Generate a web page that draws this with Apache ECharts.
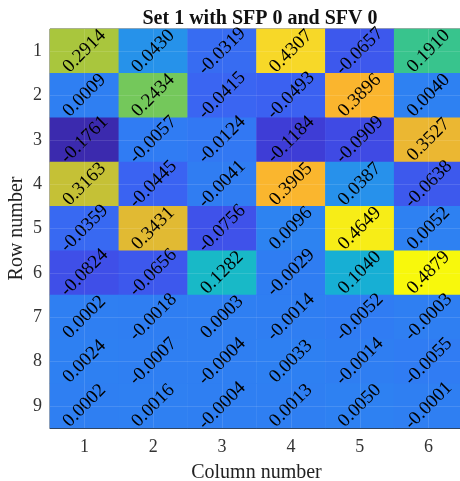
<!DOCTYPE html>
<html>
<head>
<meta charset="utf-8">
<script src="https://cdn.jsdelivr.net/npm/echarts@6/dist/echarts.min.js"></script>
<style>html,body{margin:0;padding:0;background:#fff;}#c{width:460px;height:481px;}</style>
</head>
<body>
<div id="c"></div>
<script>
const columns = ['1','2','3','4','5','6'];
const rows = ['1','2','3','4','5','6','7','8','9'];
const row1 = [0.2914, 0.0430, -0.0319, 0.4307, -0.0657, 0.1910];
const row2 = [0.0009, 0.2434, -0.0415, -0.0493, 0.3896, 0.0040];
const row3 = [-0.1761, -0.0057, -0.0124, -0.1184, -0.0909, 0.3527];
const row4 = [0.3163, -0.0445, -0.0041, 0.3905, 0.0387, -0.0638];
const row5 = [-0.0359, 0.3431, -0.0756, 0.0096, 0.4649, 0.0052];
const row6 = [-0.0824, -0.0656, 0.1282, -0.0029, 0.1040, 0.4879];
const row7 = [0.0002, -0.0018, 0.0003, -0.0014, -0.0052, -0.0003];
const row8 = [0.0024, -0.0007, -0.0004, 0.0033, -0.0014, -0.0055];
const row9 = [0.0002, 0.0016, -0.0004, 0.0013, 0.0050, -0.0001];
const matrix = [row1, row2, row3, row4, row5, row6, row7, row8, row9];

const titleText = 'Set 1 with SFP 0 and SFV 0';
const xName = 'Column number';
const yName = 'Row number';

const palette = ['#3B2AAE','#3C33C6','#3F40DC','#3F52EA','#3A64F2','#317AF3','#2A8AF0','#2498E6','#17A8DA','#16B8CC','#22C0B0','#36C48F','#5CC86C','#82C852','#A6C63E','#CBC034','#EEB632','#FAB42E','#F7D22C','#F6E81C','#F8F80C'];

const data = [];
matrix.forEach((r, ri) => r.forEach((v, ci) => data.push([ci, ri, v])));
let vmin = Infinity, vmax = -Infinity;
data.forEach(d => { vmin = Math.min(vmin, d[2]); vmax = Math.max(vmax, d[2]); });

const font = 'Liberation Serif';
const chart = echarts.init(document.getElementById('c'), null, {renderer: 'canvas'});
chart.setOption({
  animation: false,
  backgroundColor: '#fff',
  title: {
    text: titleText, left: 255, top: 4, textAlign: 'center',
    textStyle: {fontFamily: font, fontWeight: 'bold', fontSize: 20, color: '#111'}
  },
  grid: {left: 50, right: -3, top: 29, bottom: 53, show: true, borderColor: '#555', borderWidth: 1,
         containLabel: false, outerBoundsMode: 'none'},
  xAxis: [{
    type: 'category', data: columns, position: 'bottom',
    name: xName, nameLocation: 'middle', nameGap: 35, nameMoveOverlap: false,
    nameTextStyle: {fontFamily: font, fontSize: 20, color: '#222'},
    axisLine: {show: true, lineStyle: {color: '#333'}},
    axisTick: {show: true, inside: true, alignWithLabel: true, length: 5, lineStyle: {color: '#444'}},
    axisLabel: {fontFamily: font, fontSize: 18, color: '#333', margin: 10},
    splitLine: {show: false}
  }, {
    type: 'category', data: columns, position: 'bottom',
    axisLine: {show: false}, axisLabel: {show: false},
    axisTick: {show: true, inside: true, alignWithLabel: true, length: 399, lineStyle: {color: 'rgba(255,255,255,0.12)'}},
    z: 5
  }],
  yAxis: [{
    type: 'category', data: rows, inverse: true,
    name: yName, nameLocation: 'middle', nameGap: 23, nameRotate: 90, nameMoveOverlap: false,
    nameTextStyle: {fontFamily: font, fontSize: 20, color: '#222'},
    axisLine: {show: false},
    axisTick: {show: true, inside: true, alignWithLabel: true, length: 5, lineStyle: {color: '#444'}},
    axisLabel: {fontFamily: font, fontSize: 18, color: '#333', margin: 8},
    splitLine: {show: false}
  }, {
    type: 'category', data: rows, inverse: true, position: 'left',
    axisLine: {show: false}, axisLabel: {show: false},
    axisTick: {show: true, inside: true, alignWithLabel: true, length: 413, lineStyle: {color: 'rgba(255,255,255,0.12)'}},
    z: 5
  }],
  visualMap: {
    show: false, type: 'continuous', min: vmin, max: vmax, dimension: 2, seriesIndex: 0,
    inRange: {color: palette}
  },
  series: [{
    type: 'heatmap', xAxisIndex: 0, yAxisIndex: 0, data: data,
    itemStyle: {borderWidth: 0},
    label: {
      show: true, rotate: 45, color: '#000',
      fontFamily: font, fontSize: 19,
      formatter: p => p.value[2].toFixed(4)
    },
    emphasis: {disabled: true}
  }]
});
</script>
</body>
</html>
